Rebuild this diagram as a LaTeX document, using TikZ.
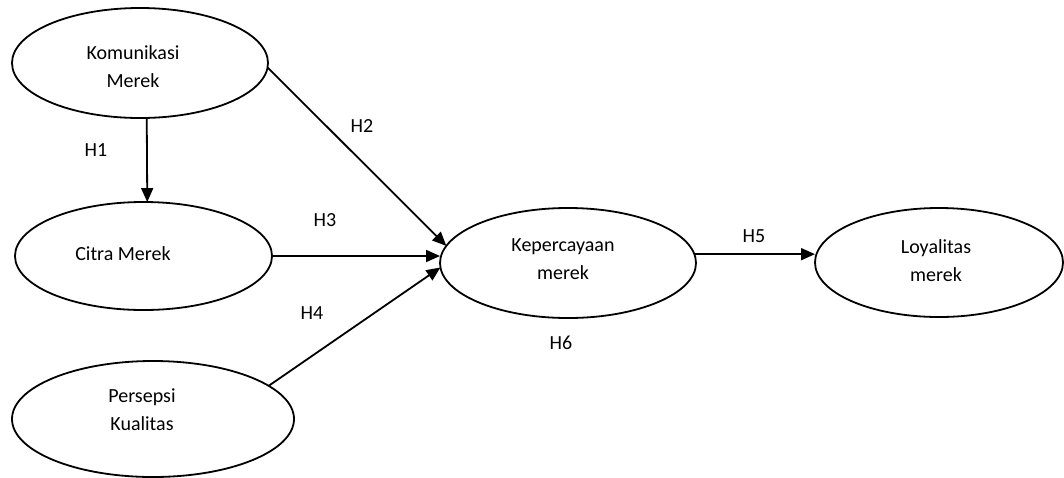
\documentclass[tikz,border=0pt]{standalone}
\usepackage{fontspec}
\setmainfont{Carlito}
\usetikzlibrary{arrows.meta,shapes.geometric}
\begin{document}
\begin{tikzpicture}[x=1pt,y=-1pt,
  ell/.style={draw=black, line width=1.8pt, ellipse, inner sep=0pt, outer sep=0pt},
  txt/.style={font=\fontsize{20}{28}\selectfont, align=center, inner sep=0pt},
  lbl/.style={font=\fontsize{20}{24}\selectfont, inner sep=0pt},
  arr/.style={draw=black, line width=1.8pt, -{Triangle[length=14pt,width=12pt]}}
]
\useasboundingbox (0,0) rectangle (1064,477);
% ellipses
\node[ell, minimum width=256pt, minimum height=110pt] (km) at (140,63) {};
\node[ell, minimum width=257pt, minimum height=108pt] (cm) at (143.5,256) {};
\node[ell, minimum width=282pt, minimum height=116pt] (pk) at (153,419) {};
\node[ell, minimum width=256pt, minimum height=110pt] (kp) at (568,263) {};
\node[ell, minimum width=248pt, minimum height=109pt] (ly) at (939,262.5) {};
% texts
\node[txt] (tkm) at (133,67) {Komunikasi\\Merek};
\node[txt, anchor=base] (tcm) at (123,260) {Citra Merek};
\node[txt] (tpk) at (142,410) {Persepsi\\Kualitas};
\node[txt] (tkp) at (563,259) {Kepercayaan\\merek};
\node[txt] (tly) at (936,260.5) {Loyalitas\\merek};
% connectors
\draw[arr] (km.-83) -- (cm.86);
\draw[arr] (km.-2) -- (kp.172);
\draw[arr] (cm.east) -- (cm.east -| kp.west);
\draw[arr] (pk.16) -- (kp.182);
\draw[arr] (kp.4) -- (kp.4 -| ly.west);
% labels
\node[lbl] (h1) at (96,150) {H1};
\node[lbl] (h2) at (362,126) {H2};
\node[lbl] (h3) at (325,220) {H3};
\node[lbl] (h4) at (312,313) {H4};
\node[lbl] (h5) at (754,236) {H5};
\node[lbl] (h6) at (561,343) {H6};
\end{tikzpicture}
\end{document}
